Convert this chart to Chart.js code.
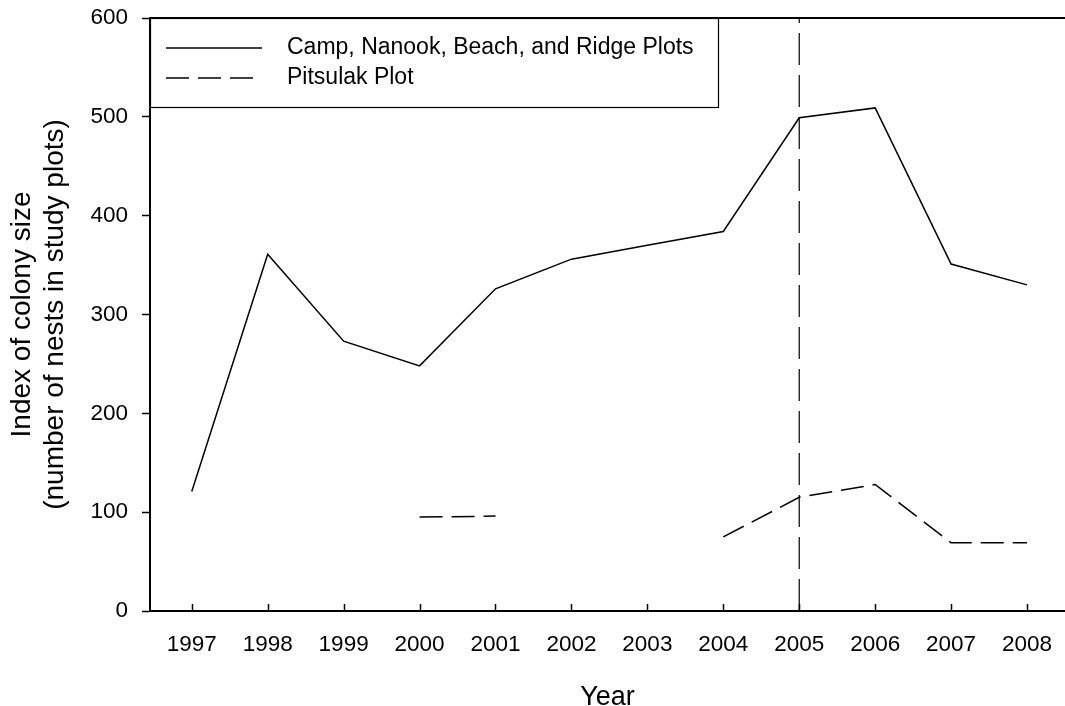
<!DOCTYPE html>
<html lang="en">
<head>
    <meta charset="UTF-8">
    <title>Index of colony size, 1997-2008</title>
    <script src="https://cdn.jsdelivr.net/npm/chart.js"></script>
    <style>
        body {
            margin: 0;
            background-color: white;
        }
        .chart-container {
            width: 1065px;
            height: 706px;
        }
    </style>
</head>
<body>
    <div class="chart-container">
        <canvas id="colonyChart"></canvas>
    </div>
    <script>
        // data
        const years = [1997, 1998, 1999, 2000, 2001, 2002, 2003, 2004, 2005, 2006, 2007, 2008];
        const campPlots = [121, 361, 273, 248, 326, 356, 370, 384, 499, 509, 351, 330];
        const pitsulakPlot = [null, null, null, 95, 96, null, null, 75, 115, 128, 69, 69];
        const markerYear = 2005;
        const yTicks = [0, 100, 200, 300, 400, 500, 600];
        const seriesNames = ['Camp, Nanook, Beach, and Ridge Plots', 'Pitsulak Plot'];

        const fontFamily = '"Liberation Sans", Arial, sans-serif';
        const dashPitsulak = [23, 9];

        // legend box in the top left corner + top frame line + inward x ticks
        const framePlugin = {
            id: 'frame',
            afterDraw(chart) {
                const ctx = chart.ctx;
                const area = chart.chartArea;
                const xs = chart.scales.x;
                ctx.save();
                ctx.strokeStyle = '#000';

                ctx.lineWidth = 2;
                ctx.beginPath();
                ctx.moveTo(area.left, area.top);
                ctx.lineTo(chart.width, area.top);
                ctx.stroke();

                ctx.lineWidth = 1.5;
                years.forEach(y => {
                    const px = Math.round(xs.getPixelForValue(y)) + 0.5;
                    ctx.beginPath();
                    ctx.moveTo(px, area.bottom);
                    ctx.lineTo(px, area.bottom - 7);
                    ctx.stroke();
                });

                // legend
                const lx = area.left, ly = area.top, lw = 568, lh = 89;
                ctx.fillStyle = 'white';
                ctx.fillRect(lx, ly, lw, lh);
                ctx.lineWidth = 1.2;
                ctx.strokeRect(lx + 0.5, ly + 0.5, lw, lh);

                const rows = [ly + 30, ly + 60];
                ctx.lineWidth = 1.5;
                ctx.beginPath();
                ctx.moveTo(lx + 16, rows[0]);
                ctx.lineTo(lx + 112, rows[0]);
                ctx.stroke();
                ctx.setLineDash(dashPitsulak);
                ctx.beginPath();
                ctx.moveTo(lx + 16, rows[1]);
                ctx.lineTo(lx + 103, rows[1]);
                ctx.stroke();
                ctx.setLineDash([]);

                ctx.fillStyle = '#000';
                ctx.font = '23px ' + fontFamily;
                ctx.textBaseline = 'middle';
                ctx.fillText(seriesNames[0], lx + 137, rows[0]);
                ctx.fillText(seriesNames[1], lx + 137, rows[1]);
                ctx.restore();
            }
        };

        const ctx = document.getElementById('colonyChart').getContext('2d');
        new Chart(ctx, {
            type: 'line',
            data: {
                datasets: [
                    {
                        label: seriesNames[0],
                        data: years.map((y, i) => ({ x: y, y: campPlots[i] })),
                        borderColor: '#000',
                        borderWidth: 1.5,
                        pointRadius: 0,
                        tension: 0
                    },
                    {
                        label: seriesNames[1],
                        data: years.map((y, i) => ({ x: y, y: pitsulakPlot[i] })),
                        borderColor: '#000',
                        borderWidth: 1.5,
                        borderDash: dashPitsulak,
                        pointRadius: 0,
                        spanGaps: false,
                        tension: 0
                    },
                    {
                        label: 'marker',
                        data: [{ x: markerYear, y: 0 }, { x: markerYear, y: 600 }],
                        borderColor: '#000',
                        borderWidth: 1.2,
                        borderDash: [32, 10],
                        pointRadius: 0
                    }
                ]
            },
            options: {
                responsive: true,
                maintainAspectRatio: false,
                animation: false,
                layout: {
                    padding: { top: 18, right: 0, left: 0, bottom: 0 }
                },
                plugins: {
                    legend: { display: false },
                    tooltip: { enabled: false }
                },
                scales: {
                    x: {
                        type: 'linear',
                        min: 1996.45,
                        max: 2008.5,
                        afterFit: s => {
                            s.height = 95;
                            s.paddingLeft = 0;
                            s.paddingRight = 0;
                        },
                        afterBuildTicks: s => { s.ticks = years.map(v => ({ value: v })); },
                        ticks: {
                            autoSkip: false,
                            maxRotation: 0,
                            padding: 20,
                            color: '#000',
                            font: { family: fontFamily, size: 22.5 },
                            callback: v => String(v)
                        },
                        grid: { drawOnChartArea: false, drawTicks: false },
                        border: { display: true, color: '#000', width: 2 },
                        title: {
                            display: true,
                            text: 'Year',
                            color: '#000',
                            font: { family: fontFamily, size: 27, lineHeight: 1 },
                            padding: { top: 0, bottom: -5 }
                        }
                    },
                    y: {
                        min: 0,
                        max: 600,
                        afterFit: s => {
                            s.width = 150;
                            s.paddingTop = 0;
                            s.paddingBottom = 0;
                        },
                        afterBuildTicks: s => { s.ticks = yTicks.map(v => ({ value: v })); },
                        ticks: {
                            padding: 14,
                            color: '#000',
                            font: { family: fontFamily, size: 22.5 }
                        },
                        grid: {
                            drawOnChartArea: false,
                            tickLength: 8,
                            color: '#000',
                            tickWidth: 1.5
                        },
                        border: { display: true, color: '#000', width: 2 },
                        title: {
                            display: true,
                            text: ['Index of colony size', '(number of nests in study plots)'],
                            color: '#000',
                            font: { family: fontFamily, size: 28, lineHeight: 1.18 },
                            padding: { top: 6, bottom: 0 }
                        }
                    }
                }
            },
            plugins: [framePlugin]
        });
    </script>
</body>
</html>
